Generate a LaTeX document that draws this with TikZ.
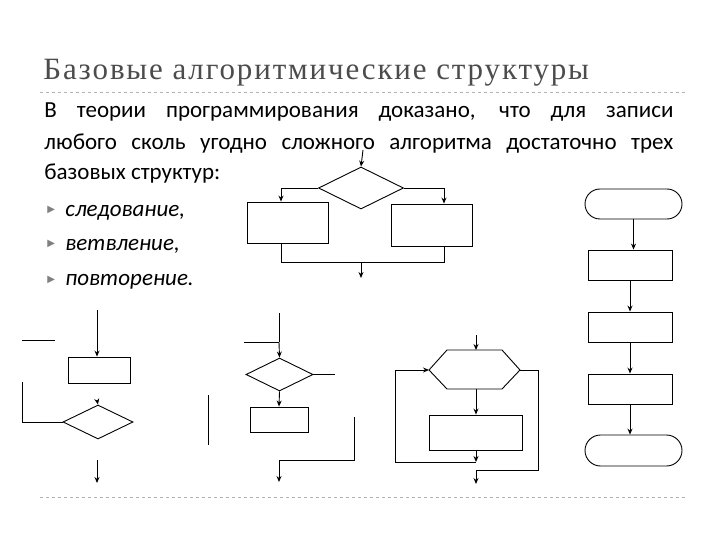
\documentclass[tikz,border=0pt]{standalone}
\usepackage{fontspec}
\setmainfont{Carlito}
\newfontfamily\titlefont[LetterSpace=6]{Liberation Serif}
\newfontfamily\symfont{DejaVu Sans}
\usetikzlibrary{shapes.geometric,shapes.misc,arrows.meta}
\begin{document}
\begin{tikzpicture}[x=1pt,y=-1pt,line width=0.9pt,
  box/.style={draw,rectangle,inner sep=0pt},
  dia/.style={draw,diamond,inner sep=0pt,aspect=2},
  term/.style={draw,rounded rectangle,inner sep=0pt},
  arr/.style={-{Stealth[length=6pt,width=5pt]}},
  body/.style={anchor=base west,inner sep=0pt,font=\fontsize{23}{25}\selectfont},
  sep/.style={draw=gray!60,dashed,line width=0.5pt}]
\useasboundingbox (0,0) rectangle (720,540);
% title
\node[anchor=base west,inner sep=0pt,text=black!70,font=\titlefont\fontsize{31}{34}\selectfont] (title) at (43,80) {Базовые алгоритмические структуры};
\draw[sep] (40,92) -- (685,92);
\draw[sep] (40,497) -- (685,497);
\node[body] (l1) at (44,118) {\makebox[629pt][s]{В теории программирования доказано, что для записи}};
\node[body] (l2) at (44,150) {\makebox[629pt][s]{любого сколь угодно сложного алгоритма достаточно трех}};
\node[body] (l3) at (44,180) {базовых структур:};
\foreach \y/\t [count=\i] in {216/{следование,}, 250/{ветвление,}, 285/{повторение.}}{
  \node[anchor=base west,inner sep=0pt,text=gray,font=\symfont\fontsize{10}{12}\selectfont] (b\i) at (47,\y-3) {▶};
  \node[body,font=\fontsize{23}{25}\selectfont\itshape] (t\i) at (65,\y) {\t};
}
% branching
\coordinate (bin) at (363,150);
\node[dia,minimum width=85,minimum height=42] (bd) at (361,188) {};
\node[box,minimum width=81,minimum height=41] (bl) at (288,222.5) {};
\node[box,minimum width=81,minimum height=42] (br) at (432,225) {};
\coordinate (bj1) at (281,262); \coordinate (bj2) at (444,262);
\coordinate (bout) at (361,278);
\draw[arr] (bin) -- (bd.north);
\draw[arr] (bd.west) -| (bj1|-bl.north);
\draw[arr] (bd.east) -| (bj2|-br.north);
\draw (bj1|-bl.south) -- (bj1) -- (bj2) -- (bj2|-br.south);
\draw[arr] (bj1-|bout) -- (bout);
% sequence
\node[term,minimum width=97,minimum height=30] (s0) at (633.5,204) {};
\node[box,minimum width=84,minimum height=30] (s1) at (630,265) {};
\node[box,minimum width=84,minimum height=30] (s2) at (630,327) {};
\node[box,minimum width=84,minimum height=30] (s3) at (630,389) {};
\node[term,minimum width=97,minimum height=31] (s4) at (633.5,450.5) {};
\draw[arr] (s0.south) -- (s0.south|-s1.north);
\draw[arr] (s1.south) -- (s2.north);
\draw[arr] (s2.south) -- (s3.north);
\draw[arr] (s3.south) -- (s3.south|-s4.north);
% while loop (hexagon)
\coordinate (win) at (476,335);
\draw (447,350) -- (502,350) -- (520,370) -- (502,389) -- (447,389) -- (429,370) -- cycle;
\coordinate (hN) at (476,350); \coordinate (hS) at (476,389);
\coordinate (hW) at (429,370); \coordinate (hE) at (520,370);
\node[box,minimum width=93,minimum height=35] (wb) at (475.5,432.5) {};
\coordinate (wj) at (476,462); \coordinate (wl) at (395,462);
\coordinate (wr) at (538,470); \coordinate (wout) at (476,484);
\draw[arr] (win) -- (hN);
\draw[arr] (hS) -- (wb.north-|hS);
\draw[arr] (wb.south-|wj) -- (wj);
\draw[arr] (wj) -- (wl) |- (hW);
\draw (hE) -| (wr) -- (wr-|wout);
\draw[arr] (wr-|wout) -- (wout);
% repeat loop (bottom left, fragments)
\coordinate (ra) at (97,310); \coordinate (rb) at (97,340);
\node[box,minimum width=62,minimum height=26] (rbox) at (99,370) {};
\node[dia,minimum width=70,minimum height=34] (rd) at (98,422) {};
\coordinate (rc) at (97,400);
\draw (ra) -- (rb); \draw[arr] (rb) -- (rbox.north-|rb);
\draw (22,340) -- (55,340);
\draw[arr] (rc) -- (rd.north);
\draw (rd.west) -- (22,422) -- (22,382);
\draw[arr] (97,460) -- (97,483);
\draw (208,395) -- (208,445);
% pre-check loop (bottom middle, fragments)
\node[dia,minimum width=67,minimum height=33] (md) at (279.5,374.5) {};
\node[box,minimum width=58,minimum height=25] (mb) at (279,419.5) {};
\draw (279,313) -- (279,342);
\draw (244,342) -- (279,342);
\draw[arr] (279,342) -- (md.north);
\draw (md.east) -- (335,374.5);
\draw[arr] (md.south) -- (mb.north);
\draw (354,417) -- (354,460) -- (279,460);
\draw[arr] (279,460) -- (279,482);
\end{tikzpicture}
\end{document}
